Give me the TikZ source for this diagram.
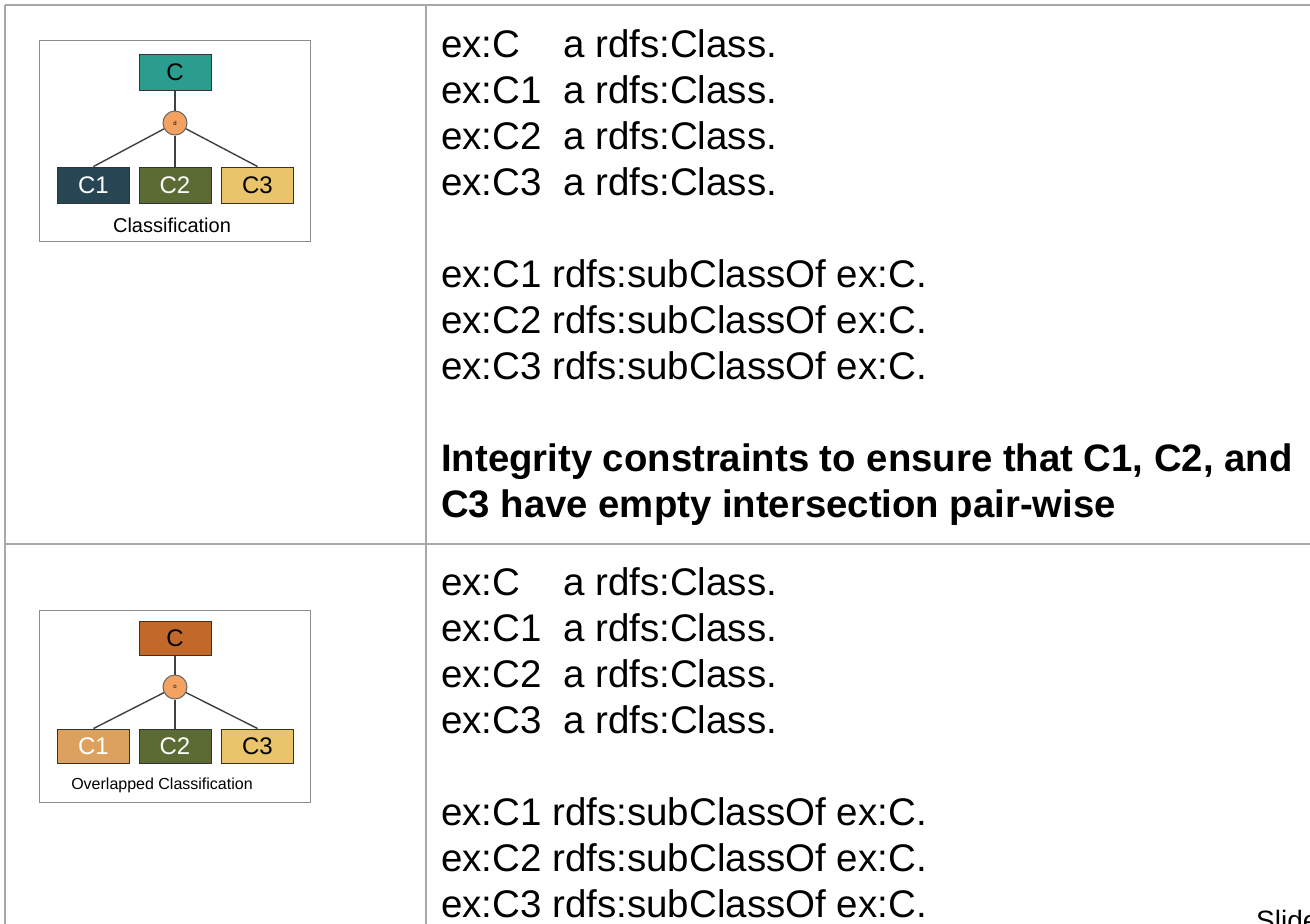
\documentclass[tikz,border=0pt]{standalone}
\usepackage{fontspec}
\setmainfont{Liberation Sans}
\definecolor{grid}{HTML}{A8A8A8}
\definecolor{teal}{HTML}{2A9D8F}
\definecolor{slate}{HTML}{264653}
\definecolor{olive}{HTML}{5B6B33}
\definecolor{sand}{HTML}{E9C46A}
\definecolor{rust}{HTML}{C0692A}
\definecolor{tan}{HTML}{DDA15E}
\definecolor{peach}{HTML}{F4A261}
\tikzset{
  gridline/.style={draw=grid, line width=2pt},
  frame/.style={draw=black!45, line width=1pt, fill=white},
  cls/.style={draw=black!80, line width=1pt, minimum width=72pt, minimum height=36pt, inner sep=0pt, font=\fontsize{24}{24}\selectfont},
  gen/.style={circle, draw=black!60, line width=1pt, fill=peach, minimum size=24pt, inner sep=0pt, font=\fontsize{6}{6}\selectfont},
  link/.style={draw=black!75, line width=1.4pt},
  code/.style={anchor=base west, inner sep=0pt, font=\fontsize{38.5}{38}\selectfont},
  boldcode/.style={anchor=base west, inner sep=0pt, font=\fontsize{38.3}{38}\selectfont\bfseries},
}
\newcommand{\tabA}[1]{\makebox[122pt][l]{#1}}
\begin{document}
\begin{tikzpicture}[x=1pt,y=-1pt]
\useasboundingbox (0,0) rectangle (1310,924);
\clip (0,0) rectangle (1310,924);
% table grid
\draw[gridline] (5,5) -- (1312,5);
\draw[gridline] (5,5) -- (5,926);
\draw[gridline] (426,5) -- (426,926);
\draw[gridline] (5,544) -- (1312,544);

% thumbnail 1
\draw[frame] (39,40) rectangle (310,241);
\node[cls, fill=teal] (c) at (175,72.5) {C};
\node[gen] (d) at (175,123) {d};
\node[cls, fill=slate, text=white] (c1) at (93.5,185) {C1};
\node[cls, fill=olive, text=white] (c2) at (175,185) {C2};
\node[cls, fill=sand] (c3) at (257.5,185) {C3};
\draw[link] (c.south) -- (d);
\draw[link] (d) -- (c1.north);
\draw[link] (d) -- (c2.north);
\draw[link] (d) -- (c3.north);
\node[anchor=base, inner sep=0pt, font=\fontsize{20}{20}\selectfont] (cap1) at (172,232) {Classification};

% thumbnail 2
\draw[frame] (39,610) rectangle (310,802);
\node[cls, minimum height=34pt, fill=rust] (d0) at (175,638) {C};
\node[gen] (o) at (175,687) {o};
\node[cls, minimum height=34pt, fill=tan, text=white] (d1) at (93.5,746) {C1};
\node[cls, minimum height=34pt, fill=olive, text=white] (d2) at (175,746) {C2};
\node[cls, minimum height=34pt, fill=sand] (d3) at (257.5,746) {C3};
\draw[link] (d0.south) -- (o);
\draw[link] (o) -- (d1.north);
\draw[link] (o) -- (d2.north);
\draw[link] (o) -- (d3.north);
\node[anchor=base, inner sep=0pt, font=\fontsize{16}{16}\selectfont] (cap2) at (162,789) {Overlapped Classification};

% text cell 1
\node[code] (a1) at (441,57) {\tabA{ex:C}a rdfs:Class.};
\node[code] (a2) at (441,103) {\tabA{ex:C1}a rdfs:Class.};
\node[code] (a3) at (441,149) {\tabA{ex:C2}a rdfs:Class.};
\node[code] (a4) at (441,195) {\tabA{ex:C3}a rdfs:Class.};
\node[code] (a5) at (441,287) {ex:C1 rdfs:subClassOf ex:C.};
\node[code] (a6) at (441,333) {ex:C2 rdfs:subClassOf ex:C.};
\node[code] (a7) at (441,379) {ex:C3 rdfs:subClassOf ex:C.};
\node[boldcode] (a8) at (441,471) {Integrity constraints to ensure that C1, C2, and};
\node[boldcode] (a9) at (441,517) {C3 have empty intersection pair-wise};

% text cell 2
\node[code] (b1) at (441,595) {\tabA{ex:C}a rdfs:Class.};
\node[code] (b2) at (441,641) {\tabA{ex:C1}a rdfs:Class.};
\node[code] (b3) at (441,687) {\tabA{ex:C2}a rdfs:Class.};
\node[code] (b4) at (441,733) {\tabA{ex:C3}a rdfs:Class.};
\node[code] (b5) at (441,825) {ex:C1 rdfs:subClassOf ex:C.};
\node[code] (b6) at (441,871) {ex:C2 rdfs:subClassOf ex:C.};
\node[code] (b7) at (441,917) {ex:C3 rdfs:subClassOf ex:C.};

\node[anchor=base west, inner sep=0pt, font=\fontsize{28}{28}\selectfont] (slide) at (1256,930) {Slide};
\end{tikzpicture}
\end{document}
